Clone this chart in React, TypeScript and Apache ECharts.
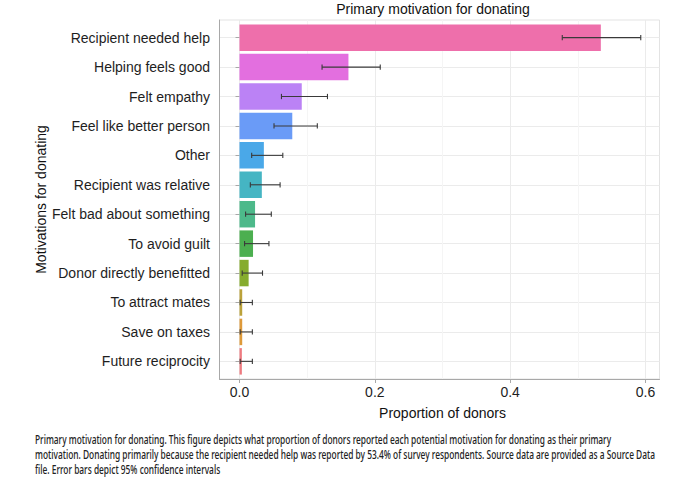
import React, { useEffect, useRef } from "react";
import * as echarts from "echarts";

// ---------- data ----------
const categories = [
  "Recipient needed help",
  "Helping feels good",
  "Felt empathy",
  "Feel like better person",
  "Other",
  "Recipient was relative",
  "Felt bad about something",
  "To avoid guilt",
  "Donor directly benefitted",
  "To attract mates",
  "Save on taxes",
  "Future reciprocity",
];
const proportions = [0.534, 0.161, 0.092, 0.078, 0.036, 0.033, 0.023, 0.02, 0.0135, 0.004, 0.004, 0.0035];
const ciLower = [0.477, 0.122, 0.062, 0.051, 0.018, 0.016, 0.009, 0.0075, 0.004, 0.001, 0.001, 0.001];
const ciUpper = [0.593, 0.208, 0.13, 0.115, 0.064, 0.06, 0.047, 0.0435, 0.034, 0.019, 0.019, 0.019];
const xTickMax = 0.6;
const xTickStep = 0.2;

const chartTitle = "Primary motivation for donating";
const xTitle = "Proportion of donors";
const yTitle = "Motivations for donating";
const captionLines = [
  "Primary motivation for donating. This figure depicts what proportion of donors reported each potential motivation for donating as their primary",
  "motivation. Donating primarily because the recipient needed help was reported by 53.4% of survey respondents. Source data are provided as a Source Data",
  "file. Error bars depict 95% confidence intervals",
];

// ---------- styles ----------
const barColors = [
  "#EE6FAB",
  "#E36FDF",
  "#BB82F5",
  "#6A9BF7",
  "#4AA8E8",
  "#45B5C3",
  "#4DB98A",
  "#4CAF50",
  "#86AC2E",
  "#BBA23A",
  "#DE9A3A",
  "#EE7B80",
];
const FONT = "'Liberation Sans', Arial, Helvetica, sans-serif";
const CAPTION_FONT = "'Noto Sans', Lato, sans-serif";

// ---------- layout ----------
const W = 680;
const H = 485;
const PANEL_L = 219.5;
const PANEL_T = 20;
const PANEL_W = 440;
const PANEL_H = 359;
const X0_PX = 239.5;
const XMAXTICK_PX = 645.5;

export default function App() {
  const ref = useRef<HTMLDivElement>(null);

  useEffect(() => {
    document.body.style.margin = "0";
    if (!ref.current) return;
    const chart = echarts.init(ref.current, undefined, { renderer: "svg" });

    const n = categories.length;
    const pxPerUnit = (XMAXTICK_PX - X0_PX) / xTickMax;
    const xMinFull = -(X0_PX - PANEL_L) / pxPerUnit;
    const xMaxFull = xTickMax + (PANEL_L + PANEL_W - XMAXTICK_PX) / pxPerUnit;
    const band = PANEL_H / (n - 1 + 1.2);
    const barTop = PANEL_T + 0.6 * band;
    const barH = (n - 1) * band;

    // caption horizontal fit
    const capSize = 13;
    const capWeight = 500;
    let capScale = 1;
    try {
      const c = document.createElement("canvas").getContext("2d");
      if (c) {
        c.font = `${capWeight} ${capSize}px 'Noto Sans'`;
        const w = c.measureText(captionLines[1]).width;
        if (w > 0) capScale = 621 / w;
      }
    } catch (e) {}

    const axisGrey = "#a8a8a8";

    chart.setOption({
      animation: false,
      textStyle: { fontFamily: FONT },
      grid: [
        {
          left: PANEL_L,
          top: PANEL_T,
          width: PANEL_W,
          height: PANEL_H,
          show: true,
          borderColor: "#e3e3e3",
          borderWidth: 1,
          backgroundColor: "#ffffff",
        },
        {
          left: X0_PX,
          top: PANEL_T,
          width: XMAXTICK_PX - X0_PX,
          height: PANEL_H,
        },
        {
          left: PANEL_L,
          top: barTop,
          width: PANEL_W,
          height: barH,
        },
      ],
      xAxis: [
        {
          gridIndex: 0,
          type: "value",
          min: 0,
          max: 1,
          z: 5,
          axisLine: { show: true, onZero: false, lineStyle: { color: axisGrey, width: 1 } },
          axisTick: { show: false },
          axisLabel: { show: false },
          splitLine: { show: false },
        },
        {
          gridIndex: 1,
          type: "value",
          min: 0,
          max: xTickMax,
          interval: xTickStep,
          axisLine: { show: false },
          axisTick: { show: true, length: 4, lineStyle: { color: axisGrey } },
          axisLabel: {
            fontSize: 14,
            color: "#1e1e1e",
            margin: 6,
            fontFamily: FONT,
            formatter: (v: number) => v.toFixed(1),
          },
          splitLine: { show: true, lineStyle: { color: "#ebebeb", width: 1 } },
          minorTick: { show: false, splitNumber: 2 },
          minorSplitLine: { show: true, lineStyle: { color: "#f5f5f5", width: 1 } },
          name: xTitle,
          nameLocation: "middle",
          nameGap: 27,
          nameMoveOverlap: false,
          nameTextStyle: { fontSize: 14, color: "#111", fontFamily: FONT },
        },
        {
          gridIndex: 2,
          type: "value",
          min: xMinFull,
          max: xMaxFull,
          show: false,
        },
      ],
      yAxis: [
        {
          gridIndex: 0,
          type: "value",
          min: 0,
          max: 1,
          z: 5,
          axisLine: { show: true, onZero: false, lineStyle: { color: axisGrey, width: 1 } },
          axisTick: { show: false },
          axisLabel: { show: false },
          splitLine: { show: false },
        },
        {
          gridIndex: 1,
          type: "value",
          min: 0,
          max: 1,
          show: false,
        },
        {
          gridIndex: 2,
          type: "value",
          inverse: true,
          min: 0,
          max: n - 1,
          interval: 1,
          axisLine: { show: false },
          axisTick: { show: true, length: 4, lineStyle: { color: axisGrey } },
          axisLabel: {
            fontSize: 14,
            color: "#1e1e1e",
            margin: 9.5,
            fontFamily: FONT,
            formatter: (v: number) => categories[Math.round(v)] ?? "",
          },
          splitLine: { show: true, lineStyle: { color: "#ebebeb", width: 1 } },
          name: yTitle,
          nameLocation: "middle",
          nameRotate: 90,
          nameGap: 172,
          nameMoveOverlap: false,
          nameTextStyle: { fontSize: 14, color: "#111", fontFamily: FONT },
        },
      ],
      series: [
        {
          type: "custom",
          name: "bars",
          xAxisIndex: 2,
          yAxisIndex: 2,
          z: 3,
          encode: { x: 0, y: 1 },
          data: proportions.map((v, i) => [v, i]),
          renderItem: (params: any, api: any) => {
            const v = api.value(0);
            const idx = api.value(1);
            const s = api.coord([0, idx]);
            const e = api.coord([v, idx]);
            const h = api.size([0, 1])[1] * 0.9;
            return {
              type: "rect",
              shape: { x: s[0], y: s[1] - h / 2, width: e[0] - s[0], height: h },
              style: { fill: barColors[params.dataIndex % barColors.length] },
            };
          },
        },
        {
          type: "custom",
          name: "ci",
          xAxisIndex: 2,
          yAxisIndex: 2,
          z: 4,
          encode: { x: [0, 1], y: 2 },
          data: ciLower.map((lo, i) => [lo, ciUpper[i], i]),
          renderItem: (params: any, api: any) => {
            const idx = api.value(2);
            const a = api.coord([api.value(0), idx]);
            const b = api.coord([api.value(1), idx]);
            const cap = api.size([0, 1])[1] * 0.09;
            const st = { stroke: "#3a3a3a", lineWidth: 1.1 };
            return {
              type: "group",
              children: [
                { type: "line", shape: { x1: a[0], y1: a[1], x2: b[0], y2: b[1] }, style: st },
                { type: "line", shape: { x1: a[0], y1: a[1] - cap, x2: a[0], y2: a[1] + cap }, style: st },
                { type: "line", shape: { x1: b[0], y1: b[1] - cap, x2: b[0], y2: b[1] + cap }, style: st },
              ],
            };
          },
        },
      ],
      graphic: [
        {
          type: "text",
          x: 433,
          y: 9,
          style: {
            text: chartTitle,
            fontSize: 14,
            fontFamily: FONT,
            fill: "#111",
            align: "center",
            verticalAlign: "middle",
          },
        },
        {
          type: "group",
          x: 35,
          y: 0,
          scaleX: capScale,
          children: captionLines.map((t, i) => ({
            type: "text",
            x: 0,
            y: 439 + i * 14.7,
            style: {
              text: t,
              fontSize: capSize,
              fontWeight: capWeight,
              fontFamily: CAPTION_FONT,
              fill: "#222",
              align: "left",
              verticalAlign: "middle",
            },
          })),
        },
      ],
    });

    return () => chart.dispose();
  }, []);

  return (
    <div
      ref={ref}
      style={{ position: "absolute", left: 0, top: 0, width: W, height: H, background: "#fff" }}
    />
  );
}
